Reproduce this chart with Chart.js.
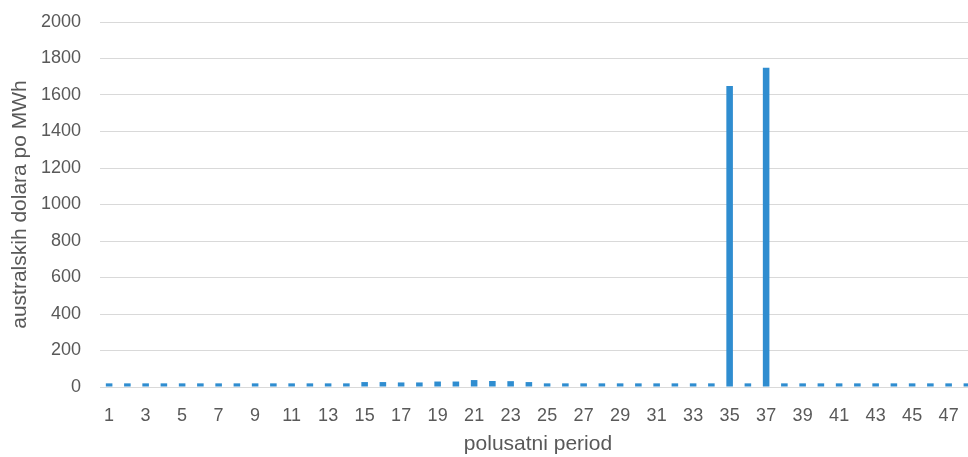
<!DOCTYPE html>
<html>
<head>
<meta charset="utf-8">
<script src="https://cdn.jsdelivr.net/npm/chart.js@4/dist/chart.umd.min.js"></script>
<style>
  html, body { margin: 0; padding: 0; background: #fff; overflow: hidden; }
  #wrap { width: 976px; height: 457px; }
</style>
</head>
<body>
<div id="wrap"><canvas id="c" width="976" height="457"></canvas></div>
<script>
// Half-hour periods 1..48
const periods = Array.from({length: 48}, (_, i) => String(i + 1));

// Price per period (AUD/MWh)
const prices = [
  20, 20, 20, 20, 20, 20, 20, 20, 20, 20, 20, 20, 20, 20, 27, 27,
  25, 25, 30, 30, 38, 33, 32, 27, 20, 20, 20, 20, 20, 20, 20, 20,
  20, 20, 1650, 20, 1750, 20, 20, 20, 20, 20, 20, 20, 20, 20, 20, 20
];

const yTitle = 'australskih dolara po MWh';
const xTitle = 'polusatni period';
const textColor = '#595959';
const font = 'Liberation Sans';

new Chart(document.getElementById('c'), {
  type: 'bar',
  data: {
    labels: periods,
    datasets: [{
      data: prices,
      backgroundColor: '#2f8dd0',
      categoryPercentage: 1,
      barPercentage: 0.36
    }]
  },
  options: {
    responsive: false,
    animation: false,
    layout: { padding: { top: 22, right: 0, bottom: 0, left: 0 } },
    plugins: { legend: { display: false }, tooltip: { enabled: false } },
    scales: {
      x: {
        grid: { display: false, drawTicks: false },
        border: { color: '#d9d9d9' },
        ticks: {
          autoSkip: false,
          maxRotation: 0,
          color: textColor,
          font: { family: font, size: 18 },
          padding: 18,
          // only odd periods are labelled
          callback: (v, i) => i % 2 === 0 ? periods[i] : ''
        },
        title: {
          display: true,
          text: xTitle,
          color: textColor,
          font: { family: font, size: 21 },
          padding: { top: 0, bottom: 0 }
        },
        // fixed band under the plot so the layout matches the original
        afterFit: s => { s.height = 70; s.paddingLeft = 0; s.paddingRight = 0; }
      },
      y: {
        min: 0,
        max: 2000,
        grid: { color: '#d9d9d9', drawTicks: false },
        border: { display: false },
        ticks: {
          stepSize: 200,
          color: textColor,
          font: { family: font, size: 18 },
          padding: 19,
          callback: v => String(v)
        },
        title: {
          display: true,
          text: yTitle,
          color: textColor,
          font: { family: font, size: 21 },
          padding: { top: 8, bottom: 0 }
        },
        afterFit: s => { s.width = 100; s.paddingTop = 0; s.paddingBottom = 0; }
      }
    }
  }
});
</script>
</body>
</html>
